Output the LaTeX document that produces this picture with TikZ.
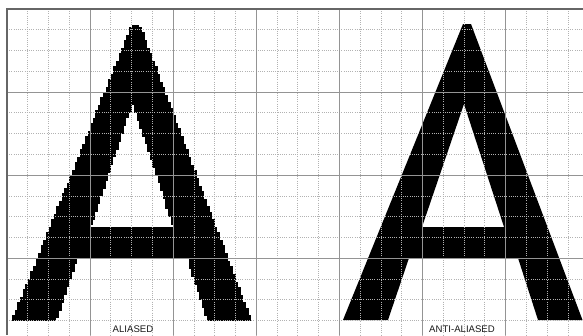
\documentclass[tikz,border=0pt]{standalone}
\usepackage{fontspec}
\newfontfamily\labfont{Liberation Sans}
\def\pxs{2.597}
\def\gstep{20.775}
\newcommand\rastspan[3]{%
  \pgfmathsetmacro\ra{7+round((#1-7)/\pxs)*\pxs}%
  \pgfmathsetmacro\rb{7+round((#2-7)/\pxs)*\pxs}%
  \fill[black] (\ra,#3) rectangle (\rb,#3+\pxs+0.35);%
}
\tikzset{
  minorline/.style={draw=black!30, line width=0.8pt, dash pattern=on 1pt off 1.2pt},
  majorline/.style={draw=black!42, line width=1pt},
  frameline/.style={draw=black!60, line width=1.4pt},
  label/.style={font={\labfont\fontsize{9.6}{10}\selectfont}, text=black!90, inner sep=0pt, anchor=base}
}
\begin{document}
\begin{tikzpicture}[x=1pt,y=-1pt]
\useasboundingbox (0,0) rectangle (583,335);
\clip (0,0) rectangle (583,335);
\fill[white] (0,0) rectangle (583,335);
% aliased letter, rasterised
\foreach \j in {6,...,119}{
  \pgfmathsetmacro\yt{9+\j*\pxs}
  \pgfmathsetmacro\yc{\yt+\pxs/2}
  \pgfmathsetmacro\xA{132-(\yc-24)/296*120}
  \pgfmathsetmacro\xB{140+(\yc-24)/296*111.5}
  \ifdim\yc pt<104pt
    \rastspan{\xA}{\xB}{\yt}
  \else\ifdim\yc pt<227pt
    \pgfmathsetmacro\xC{133-(\yc-104)/123*42}
    \pgfmathsetmacro\xD{133+(\yc-104)/123*40}
    \rastspan{\xA}{\xC}{\yt}\rastspan{\xD}{\xB}{\yt}
  \else\ifdim\yc pt<258pt
    \rastspan{\xA}{\xB}{\yt}
  \else
    \pgfmathsetmacro\xC{78-(\yc-258)/62*21}
    \pgfmathsetmacro\xD{187+(\yc-258)/62*20}
    \rastspan{\xA}{\xC}{\yt}\rastspan{\xD}{\xB}{\yt}
  \fi\fi\fi
}
% anti-aliased letter
\begin{scope}[xshift=331pt]
\fill[black,even odd rule]
  (12,320) -- (132,24) -- (140,24) -- (251.5,320) -- (207,320) -- (187,258)
  -- (78,258) -- (57,320) -- cycle
  (91,227) -- (133,104) -- (173,227) -- cycle;
\end{scope}
% grid
\foreach \k in {1,...,27}{
  \draw[minorline] (7+\k*\gstep,9) -- (7+\k*\gstep,335);
}
\foreach \k in {1,...,16}{
  \draw[minorline] (7,9+\k*\gstep) -- (583,9+\k*\gstep);
}
\foreach \k in {1,...,6}{
  \draw[majorline] (7+\k*4*\gstep,9) -- (7+\k*4*\gstep,335);
}
\foreach \k in {1,...,3}{
  \draw[majorline] (7,9+\k*4*\gstep) -- (583,9+\k*4*\gstep);
}
\draw[frameline] (7,335) -- (7,9) -- (583,9);
% labels
\node[label] (aliased) at (133,332.6) {ALIASED};
\node[label] (antialiased) at (462,332.6) {ANTI-ALIASED};
\end{tikzpicture}
\end{document}
